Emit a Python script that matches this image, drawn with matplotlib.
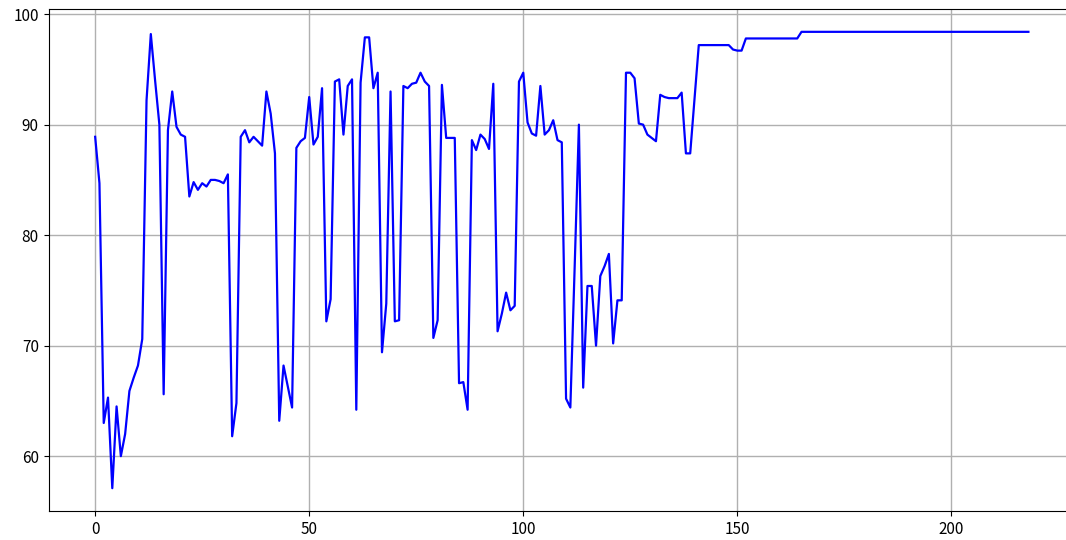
import matplotlib
matplotlib.use("Agg")
import matplotlib.pyplot as plt

plt.rcParams['font.family'] = ['Noto Sans CJK SC', 'DejaVu Sans']

# values, one per step (0..218)
acc_0_39 = [88.9, 84.7, 63.0, 65.3, 57.1, 64.5, 60.0, 62.0, 65.9, 67.1,
            68.2, 70.6, 92.2, 98.2, 94.0, 90.0, 65.6, 89.5, 93.0, 89.8,
            89.1, 88.9, 83.5, 84.8, 84.1, 84.7, 84.4, 85.0, 85.0, 84.9,
            84.7, 85.5, 61.8, 64.8, 88.9, 89.5, 88.4, 88.9, 88.5, 88.1]
acc_40_79 = [93.0, 91.0, 87.4, 63.2, 68.2, 66.3, 64.4, 87.9, 88.5, 88.8,
             92.5, 88.2, 88.9, 93.3, 72.2, 74.2, 93.9, 94.1, 89.1, 93.5,
             94.1, 64.2, 93.8, 97.9, 97.9, 93.3, 94.7, 69.4, 73.8, 93.0,
             72.2, 72.3, 93.5, 93.3, 93.7, 93.8, 94.7, 93.9, 93.5, 70.7]
acc_80_119 = [72.3, 93.6, 88.8, 88.8, 88.8, 66.6, 66.7, 64.2, 88.6, 87.7,
              89.1, 88.7, 87.8, 93.7, 71.3, 72.9, 74.8, 73.2, 73.6, 93.9,
              94.7, 90.2, 89.2, 89.0, 93.5, 89.1, 89.5, 90.4, 88.6, 88.4,
              65.2, 64.4, 77.0, 90.0, 66.2, 75.4, 75.4, 70.0, 76.3, 77.2]
acc_120_159 = [78.3, 70.2, 74.1, 74.1, 94.7, 94.7, 94.2, 90.1, 90.0, 89.1,
               88.8, 88.5, 92.7, 92.5, 92.4, 92.4, 92.4, 92.9, 87.4, 87.4,
               92.3, 97.2, 97.2, 97.2, 97.2, 97.2, 97.2, 97.2, 97.2, 96.8,
               96.7, 96.7, 97.8, 97.8, 97.8, 97.8, 97.8, 97.8, 97.8, 97.8]
acc_160_218 = [97.8, 97.8, 97.8, 97.8, 97.8, 98.4, 98.4, 98.4, 98.4, 98.4,
               98.4, 98.4, 98.4, 98.4, 98.4, 98.4, 98.4, 98.4, 98.4, 98.4,
               98.4, 98.4, 98.4, 98.4, 98.4, 98.4, 98.4, 98.4, 98.4, 98.4,
               98.4, 98.4, 98.4, 98.4, 98.4, 98.4, 98.4, 98.4, 98.4, 98.4,
               98.4, 98.4, 98.4, 98.4, 98.4, 98.4, 98.4, 98.4, 98.4, 98.4,
               98.4, 98.4, 98.4, 98.4, 98.4, 98.4, 98.4, 98.4, 98.4]

acc = acc_0_39 + acc_40_79 + acc_80_119 + acc_120_159 + acc_160_218
steps = list(range(len(acc)))

fig = plt.figure(figsize=(10.66, 5.4), dpi=100)
ax = fig.add_axes([0.0455, 0.0537, 0.963, 0.9296])
ax.plot(steps, acc, color='b', linewidth=1.6)
ax.grid(True, color='#b0b0b0', linewidth=1)
ax.tick_params(labelsize=11)

fig.savefig("out.png", dpi=100)
